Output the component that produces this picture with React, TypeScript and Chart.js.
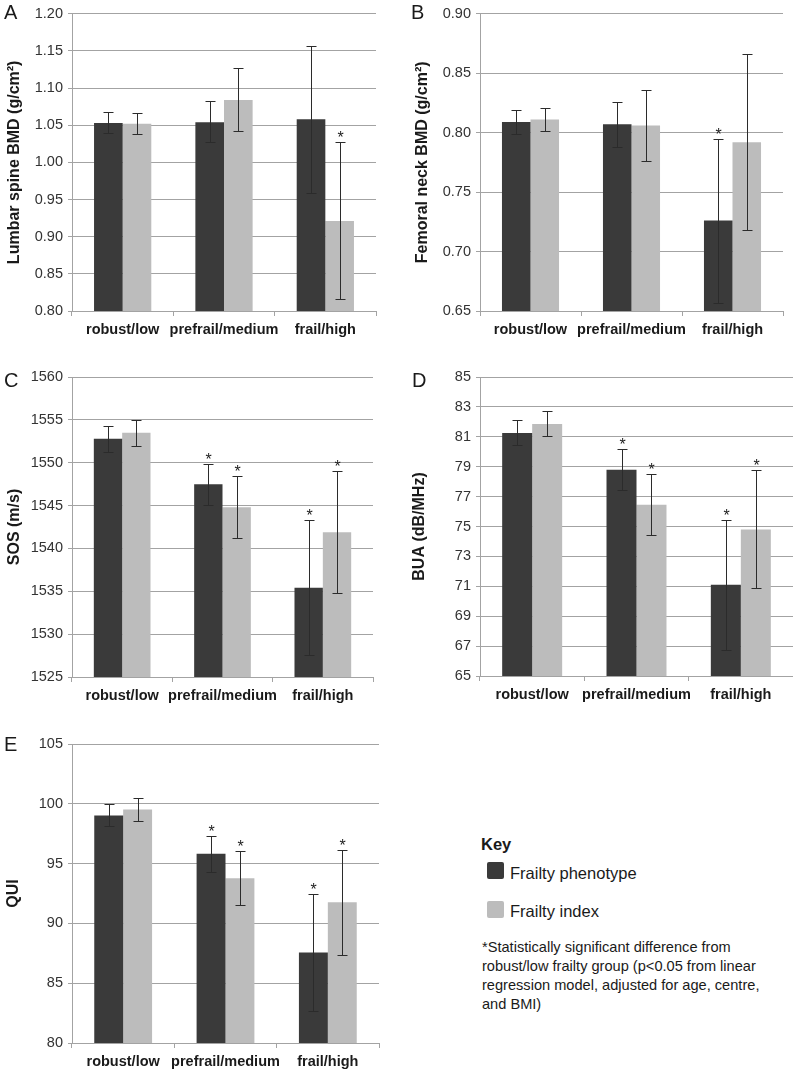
import React, { useEffect, useRef } from "react";
import { Chart, registerables } from "chart.js";
Chart.register(...registerables);

const FONT = "'Liberation Sans', Arial, Helvetica, sans-serif";
Chart.defaults.font.family = FONT;

const categories = ["robust/low", "prefrail/medium", "frail/high"];
const seriesNames = ["Frailty phenotype", "Frailty index"];

// Panel A – Lumbar spine BMD
const aPhenotype = [1.053, 1.054, 1.058];
const aPhenotypeLow = [1.039, 1.027, 0.959];
const aPhenotypeHigh = [1.068, 1.082, 1.157];
const aPhenotypeSig = [false, false, false];
const aIndex = [1.052, 1.084, 0.921];
const aIndexLow = [1.038, 1.042, 0.816];
const aIndexHigh = [1.067, 1.127, 1.027];
const aIndexSig = [false, false, true];
const aTicks = [0.8, 0.85, 0.9, 0.95, 1.0, 1.05, 1.1, 1.15, 1.2];

// Panel B – Femoral neck BMD
const bPhenotype = [0.809, 0.807, 0.726];
const bPhenotypeLow = [0.799, 0.788, 0.657];
const bPhenotypeHigh = [0.819, 0.826, 0.795];
const bPhenotypeSig = [false, false, true];
const bIndex = [0.811, 0.806, 0.792];
const bIndexLow = [0.801, 0.776, 0.718];
const bIndexHigh = [0.821, 0.836, 0.866];
const bIndexSig = [false, false, false];
const bTicks = [0.65, 0.7, 0.75, 0.8, 0.85, 0.9];

// Panel C – SOS
const cPhenotype = [1552.8, 1547.5, 1535.4];
const cPhenotypeLow = [1551.3, 1545.1, 1527.6];
const cPhenotypeHigh = [1554.3, 1549.9, 1543.3];
const cPhenotypeSig = [false, true, true];
const cIndex = [1553.5, 1544.8, 1541.9];
const cIndexLow = [1552.0, 1541.2, 1534.8];
const cIndexHigh = [1555.0, 1548.5, 1549.0];
const cIndexSig = [false, true, true];
const cTicks = [1525, 1530, 1535, 1540, 1545, 1550, 1555, 1560];

// Panel D – BUA
const dPhenotype = [81.25, 78.8, 71.1];
const dPhenotypeLow = [80.45, 77.46, 66.74];
const dPhenotypeHigh = [82.1, 80.16, 75.45];
const dPhenotypeSig = [false, true, true];
const dIndex = [81.85, 76.45, 74.8];
const dIndexLow = [81.03, 74.44, 70.87];
const dIndexHigh = [82.7, 78.5, 78.75];
const dIndexSig = [false, true, true];
const dTicks = [65, 67, 69, 71, 73, 75, 77, 79, 81, 83, 85];

// Panel E – QUI
const ePhenotype = [99.03, 95.82, 87.56];
const ePhenotypeLow = [98.14, 94.31, 82.68];
const ePhenotypeHigh = [99.95, 97.33, 92.5];
const ePhenotypeSig = [false, true, true];
const eIndex = [99.53, 93.78, 91.77];
const eIndexLow = [98.6, 91.52, 87.37];
const eIndexHigh = [100.45, 96.07, 96.15];
const eIndexSig = [false, true, true];
const eTicks = [80, 85, 90, 95, 100, 105];

const DARK = "#3a3a3a";
const LIGHT = "#bcbcbc";
const GRID = "#a3a3a3";

type PanelCfg = {
  letter: string;
  title: string;
  ticks: number[];
  decimals: number;
  phen: number[]; phenLow: number[]; phenHigh: number[]; phenSig: boolean[];
  idx: number[]; idxLow: number[]; idxHigh: number[]; idxSig: boolean[];
  left: number; top: number; w: number; h: number;
  axisW: number; padTop: number; padRight: number; bottomH: number; titlePad: number;
  catPct: number;
  letterX: number; letterY: number;
};

const panels: PanelCfg[] = [
  {
    letter: "A", title: "Lumbar spine BMD (g/cm\u00B2)", ticks: aTicks, decimals: 2,
    phen: aPhenotype, phenLow: aPhenotypeLow, phenHigh: aPhenotypeHigh, phenSig: aPhenotypeSig,
    idx: aIndex, idxLow: aIndexLow, idxHigh: aIndexHigh, idxSig: aIndexSig,
    left: 0, top: 0, w: 395, h: 345, axisW: 72, padTop: 11, padRight: 19, bottomH: 34, titlePad: 5,
    catPct: 0.565, letterX: 4, letterY: 2,
  },
  {
    letter: "B", title: "Femoral neck BMD (g/cm\u00B2)", ticks: bTicks, decimals: 2,
    phen: bPhenotype, phenLow: bPhenotypeLow, phenHigh: bPhenotypeHigh, phenSig: bPhenotypeSig,
    idx: bIndex, idxLow: bIndexLow, idxHigh: bIndexHigh, idxSig: bIndexSig,
    left: 395, top: 0, w: 398, h: 345, axisW: 85, padTop: 11, padRight: 10, bottomH: 34, titlePad: 18,
    catPct: 0.565, letterX: 411, letterY: 2,
  },
  {
    letter: "C", title: "SOS (m/s)", ticks: cTicks, decimals: 0,
    phen: cPhenotype, phenLow: cPhenotypeLow, phenHigh: cPhenotypeHigh, phenSig: cPhenotypeSig,
    idx: cIndex, idxLow: cIndexLow, idxHigh: cIndexHigh, idxSig: cIndexSig,
    left: 0, top: 345, w: 395, h: 370, axisW: 72, padTop: 32, padRight: 22, bottomH: 38, titlePad: 5,
    catPct: 0.565, letterX: 4, letterY: 370,
  },
  {
    letter: "D", title: "BUA (dB/MHz)", ticks: dTicks, decimals: 0,
    phen: dPhenotype, phenLow: dPhenotypeLow, phenHigh: dPhenotypeHigh, phenSig: dPhenotypeSig,
    idx: dIndex, idxLow: dIndexLow, idxHigh: dIndexHigh, idxSig: dIndexSig,
    left: 395, top: 345, w: 398, h: 370, axisW: 85, padTop: 32, padRight: 0, bottomH: 39, titlePad: 15,
    catPct: 0.575, letterX: 412, letterY: 370,
  },
  {
    letter: "E", title: "QUI", ticks: eTicks, decimals: 0,
    phen: ePhenotype, phenLow: ePhenotypeLow, phenHigh: ePhenotypeHigh, phenSig: ePhenotypeSig,
    idx: eIndex, idxLow: eIndexLow, idxHigh: eIndexHigh, idxSig: eIndexSig,
    left: 0, top: 695, w: 395, h: 374, axisW: 72, padTop: 49, padRight: 16, bottomH: 26, titlePad: 4,
    catPct: 0.565, letterX: 4, letterY: 734,
  },
];

const errorBarPlugin = {
  id: "errorBars",
  afterDatasetsDraw(chart: any) {
    const ctx = chart.ctx;
    const yScale = chart.scales.y;
    chart.data.datasets.forEach((ds: any, di: number) => {
      const meta = chart.getDatasetMeta(di);
      meta.data.forEach((bar: any, i: number) => {
        const x = Math.round(bar.x) + 0.5;
        const yl = Math.round(yScale.getPixelForValue(ds.errLow[i])) + 0.5;
        const yh = Math.round(yScale.getPixelForValue(ds.errHigh[i])) + 0.5;
        ctx.save();
        ctx.strokeStyle = "#2b2b2b";
        ctx.lineWidth = 1;
        ctx.beginPath();
        ctx.moveTo(x, yl);
        ctx.lineTo(x, yh);
        ctx.moveTo(x - 5, yl);
        ctx.lineTo(x + 5, yl);
        ctx.moveTo(x - 5, yh);
        ctx.lineTo(x + 5, yh);
        ctx.stroke();
        if (ds.sig[i]) {
          ctx.fillStyle = "#222";
          ctx.font = `16px ${FONT}`;
          ctx.textAlign = "center";
          ctx.textBaseline = "alphabetic";
          ctx.fillText("*", x, yh + 0);
        }
        ctx.restore();
      });
    });
  },
};

function Panel({ cfg }: { cfg: PanelCfg }) {
  const ref = useRef<HTMLCanvasElement | null>(null);
  useEffect(() => {
    if (!ref.current) return;
    const chart = new Chart(ref.current, {
      type: "bar",
      data: {
        labels: categories,
        datasets: [
          {
            label: seriesNames[0], data: cfg.phen, backgroundColor: DARK, borderWidth: 0,
            errLow: cfg.phenLow, errHigh: cfg.phenHigh, sig: cfg.phenSig,
          } as any,
          {
            label: seriesNames[1], data: cfg.idx, backgroundColor: LIGHT, borderWidth: 0,
            errLow: cfg.idxLow, errHigh: cfg.idxHigh, sig: cfg.idxSig,
          } as any,
        ],
      },
      options: {
        animation: false,
        responsive: false,
        maintainAspectRatio: false,
        layout: { padding: { top: cfg.padTop, right: cfg.padRight, left: 0, bottom: 0 } },
        datasets: { bar: { categoryPercentage: cfg.catPct, barPercentage: 1 } },
        plugins: { legend: { display: false }, tooltip: { enabled: false } },
        scales: {
          x: {
            offset: true,
            grid: { offset: true, drawOnChartArea: false, drawTicks: true, tickLength: 5, color: GRID },
            border: { display: true, color: GRID, width: 1 },
            ticks: { color: "#1a1a1a", font: { size: 14.5, weight: "bold" }, padding: 5, maxRotation: 0, autoSkip: false },
            afterFit: (s: any) => { s.height = cfg.bottomH; },
          },
          y: {
            min: cfg.ticks[0],
            max: cfg.ticks[cfg.ticks.length - 1],
            afterBuildTicks: (s: any) => { s.ticks = cfg.ticks.map((v) => ({ value: v })); },
            grid: { color: GRID, lineWidth: 1, drawTicks: true, tickLength: 4 },
            border: { display: true, color: GRID, width: 1 },
            ticks: {
              color: "#333",
              font: { size: 14.5 },
              padding: 5,
              callback: (v: any) => Number(v).toFixed(cfg.decimals),
            },
            title: {
              display: true,
              text: cfg.title,
              color: "#1a1a1a",
              font: { size: 16, weight: "bold" },
              padding: { top: cfg.titlePad, bottom: 0 },
            },
            afterFit: (s: any) => { s.width = cfg.axisW; },
          },
        },
      },
      plugins: [errorBarPlugin],
    });
    return () => chart.destroy();
  }, [cfg]);
  return (
    <canvas
      ref={ref}
      width={cfg.w}
      height={cfg.h}
      style={{ position: "absolute", left: cfg.left, top: cfg.top, width: cfg.w, height: cfg.h }}
    />
  );
}

export default function App() {
  return (
    <div
      style={{
        position: "absolute", left: 0, top: 0, width: 793, height: 1069,
        background: "#fff", overflow: "hidden", fontFamily: FONT, color: "#1a1a1a",
      }}
    >
      {panels.map((p) => (
        <Panel key={p.letter} cfg={p} />
      ))}
      {panels.map((p) => (
        <div
          key={"l" + p.letter}
          style={{ position: "absolute", left: p.letterX, top: p.letterY, fontSize: 20, lineHeight: "20px" }}
        >
          {p.letter}
        </div>
      ))}
      <div style={{ position: "absolute", left: 481, top: 834, fontSize: 16.5, fontWeight: "bold", lineHeight: "20px" }}>Key</div>
      <div style={{ position: "absolute", left: 487, top: 862, width: 17, height: 17, background: DARK, borderRadius: 2 }} />
      <div style={{ position: "absolute", left: 510, top: 863, fontSize: 16.5, lineHeight: "20px" }}>{seriesNames[0]}</div>
      <div style={{ position: "absolute", left: 487, top: 901, width: 17, height: 17, background: LIGHT, borderRadius: 2 }} />
      <div style={{ position: "absolute", left: 510, top: 901, fontSize: 16.5, lineHeight: "20px" }}>{seriesNames[1]}</div>
      <div style={{ position: "absolute", left: 482, top: 938, width: 310, fontSize: 14.6, lineHeight: "19px" }}>
        *Statistically significant difference from
        <br />
        robust/low frailty group (p{"<"}0.05 from linear
        <br />
        regression model, adjusted for age, centre,
        <br />
        and BMI)
      </div>
    </div>
  );
}
